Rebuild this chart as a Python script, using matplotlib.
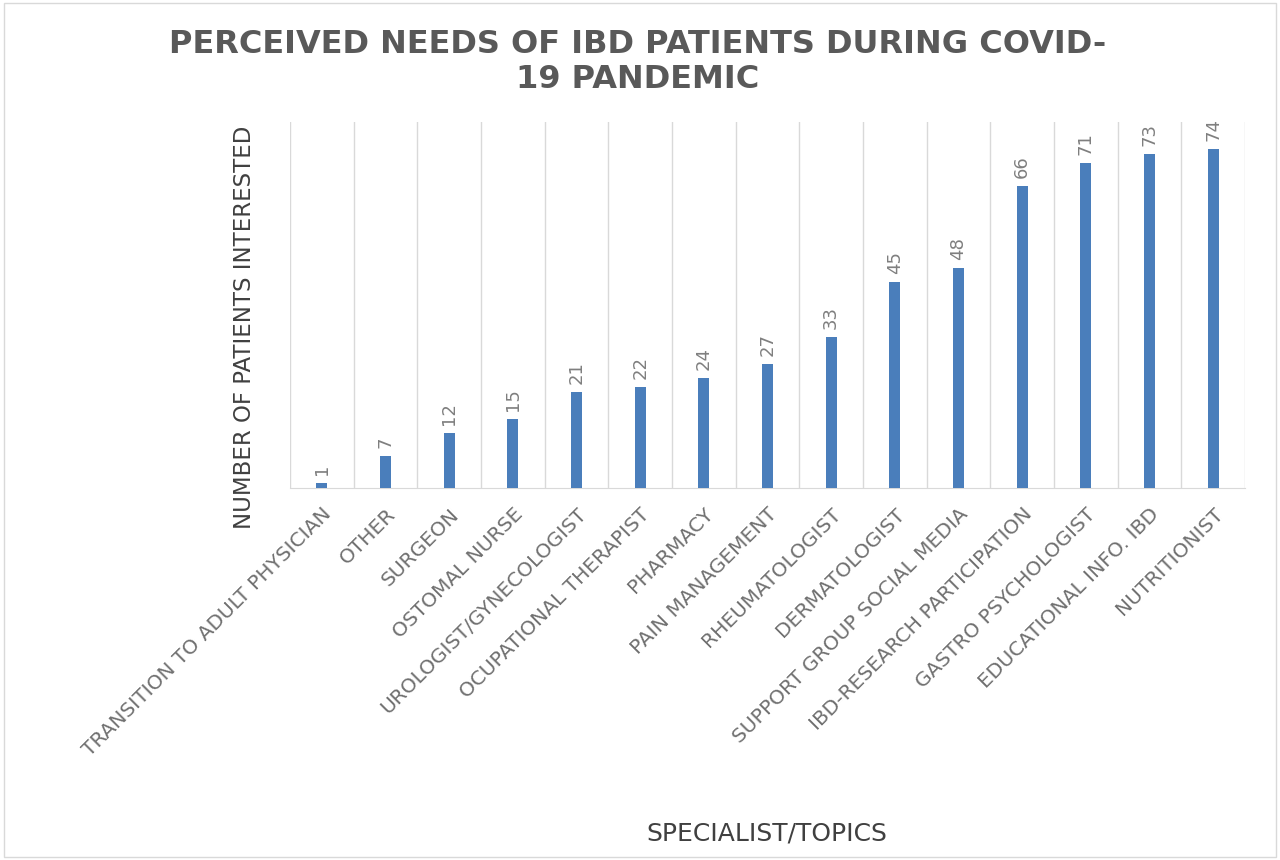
import matplotlib
matplotlib.use("Agg")
import matplotlib.pyplot as plt
import numpy as np

categories = ["TRANSITION TO ADULT PHYSICIAN", "OTHER", "SURGEON", "OSTOMAL NURSE",
              "UROLOGIST/GYNECOLOGIST", "OCUPATIONAL THERAPIST", "PHARMACY",
              "PAIN MANAGEMENT", "RHEUMATOLOGIST", "DERMATOLOGIST",
              "SUPPORT GROUP SOCIAL MEDIA", "IBD-RESEARCH PARTICIPATION",
              "GASTRO PSYCHOLOGIST", "EDUCATIONAL INFO. IBD", "NUTRITIONIST"]
values = [1, 7, 12, 15, 21, 22, 24, 27, 33, 45, 48, 66, 71, 73, 74]

plt.rcParams['font.family'] = ['DejaVu Sans']

fig = plt.figure(figsize=(12.8, 8.6), dpi=100)
ax = fig.add_axes([0.2266, 0.4326, 0.746, 0.4256])

x = np.arange(len(categories))
ax.bar(x, values, width=0.17, color="#4a7ebb", zorder=3)
for xi, v in zip(x, values):
    ax.text(xi, v + 1.8, str(v), rotation=90, ha="center", va="bottom",
            fontsize=13, color="#7f7f7f")

ax.set_xlim(-0.5, len(categories) - 0.5)
ax.set_ylim(0, 80)
# vertical gridlines between categories, like the excel chart
for b in np.arange(-0.5, len(categories) + 0.5, 1.0):
    ax.axvline(b, color="#d9d9d9", lw=1, zorder=1)
for s in ["top", "left", "right"]:
    ax.spines[s].set_visible(False)
ax.spines["bottom"].set_color("#d9d9d9")
ax.set_yticks([])
ax.set_xticks(x)
ax.set_xticklabels(categories, rotation=45, ha="right", rotation_mode="anchor",
                   fontsize=14.5, color="#707070")
ax.tick_params(axis="x", length=0, pad=12)

ax.set_ylabel("NUMBER OF PATIENTS INTERESTED", fontsize=16.5, color="#404040")
ax.yaxis.set_label_coords(-0.036, 0.44)
fig.text(0.599, 0.017, "SPECIALIST/TOPICS", ha="center", va="bottom",
         fontsize=18, color="#404040")

fig.text(0.498, 0.966, "PERCEIVED NEEDS OF IBD PATIENTS DURING COVID-\n19 PANDEMIC",
         ha="center", va="top", fontsize=23, fontweight="bold", color="#595959",
         linespacing=1.15)

fig.patches.append(plt.Rectangle((0.003, 0.003), 0.994, 0.994, transform=fig.transFigure,
                                 fill=False, edgecolor="#d9d9d9", lw=1))

fig.savefig("out.png", dpi=100)
